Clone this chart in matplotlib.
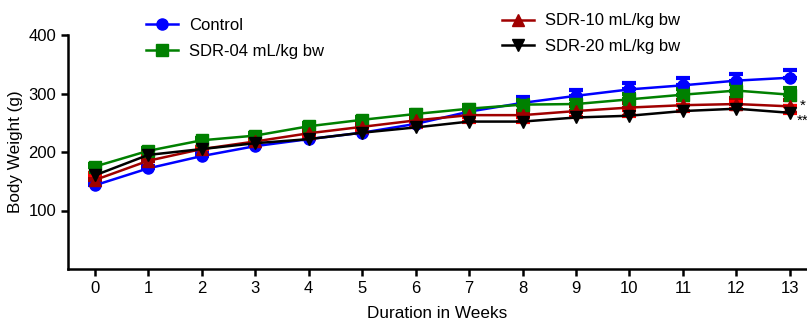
import numpy as np
import matplotlib
matplotlib.use("Agg")
import matplotlib.pyplot as plt

plt.rcParams['font.family'] = ['Liberation Sans', 'DejaVu Sans']

weeks = list(range(14))
control = [143, 172, 193, 210, 222, 233, 248, 269, 284, 296, 307, 314, 322, 327]
sdr04 = [175, 202, 220, 228, 244, 255, 265, 274, 281, 282, 290, 298, 305, 298]
sdr10 = [152, 185, 205, 218, 232, 243, 254, 263, 263, 270, 276, 280, 282, 278]
sdr20 = [160, 195, 205, 215, 222, 233, 242, 252, 252, 259, 262, 270, 274, 267]

control_err = [4, 4, 5, 5, 5, 6, 7, 8, 10, 10, 11, 12, 12, 14]
sdr04_err = [4, 4, 4, 5, 5, 5, 6, 7, 8, 9, 10, 10, 11, 12]
sdr10_err = [4, 4, 4, 4, 5, 5, 6, 6, 7, 8, 8, 9, 10, 11]
sdr20_err = [4, 4, 4, 4, 5, 5, 6, 7, 8, 9, 10, 10, 11, 12]

labels = ['Control', 'SDR-04 mL/kg bw', 'SDR-10 mL/kg bw', 'SDR-20 mL/kg bw']
colors = ['#0000ff', '#008000', '#a00000', '#000000']
err_colors = ['#0000ff', '#008000', '#a00000', '#ff0000']
markers = ['o', 's', '^', 'v']

fig = plt.figure(figsize=(8.07, 3.22), dpi=100)
ax = fig.add_axes([68 / 807, 53 / 322, 1 - 68 / 807, 234 / 322])

series = [control, sdr04, sdr10, sdr20]
errs = [control_err, sdr04_err, sdr10_err, sdr20_err]
handles = []
for y, e, c, ec, m, lab in zip(series, errs, colors, err_colors, markers, labels):
    ax.errorbar(weeks, y, yerr=[np.zeros(len(e)), e], fmt='none', ecolor=ec,
                elinewidth=2, capsize=5, capthick=3, zorder=2)
    h, = ax.plot(weeks, y, color=c, marker=m, markersize=8, lw=1.8, label=lab,
                 zorder=3, clip_on=False)
    handles.append(h)

ax.set_xlim(-0.5, 13.32)
ax.set_ylim(0, 400)
ax.set_xticks(weeks)
ax.set_yticks([100, 200, 300, 400])
ax.tick_params(labelsize=12, width=1.8, length=5, direction='out')
for s in ['top', 'right']:
    ax.spines[s].set_visible(False)
for s in ['left', 'bottom']:
    ax.spines[s].set_linewidth(1.8)
ax.set_xlabel('Duration in Weeks', fontsize=12.3, labelpad=7)
ax.set_ylabel('Body Weight (g)', fontsize=12.3, labelpad=4)

ax.text(13.18, 279, '*', fontsize=11, va='center', ha='left', clip_on=False)
ax.text(13.12, 254, '**', fontsize=11, va='center', ha='left', clip_on=False)

fig.legend(handles[:2], labels[:2], loc='upper left', bbox_to_anchor=(131 / 807, 0.99),
           frameon=False, fontsize=12, handlelength=1.9, handletextpad=0.7,
           labelspacing=0.65)
fig.legend(handles[2:], labels[2:], loc='upper left', bbox_to_anchor=(487 / 807, 1.005),
           frameon=False, fontsize=12, handlelength=1.9, handletextpad=0.7,
           labelspacing=0.65)

fig.savefig('out.png', dpi=100)
